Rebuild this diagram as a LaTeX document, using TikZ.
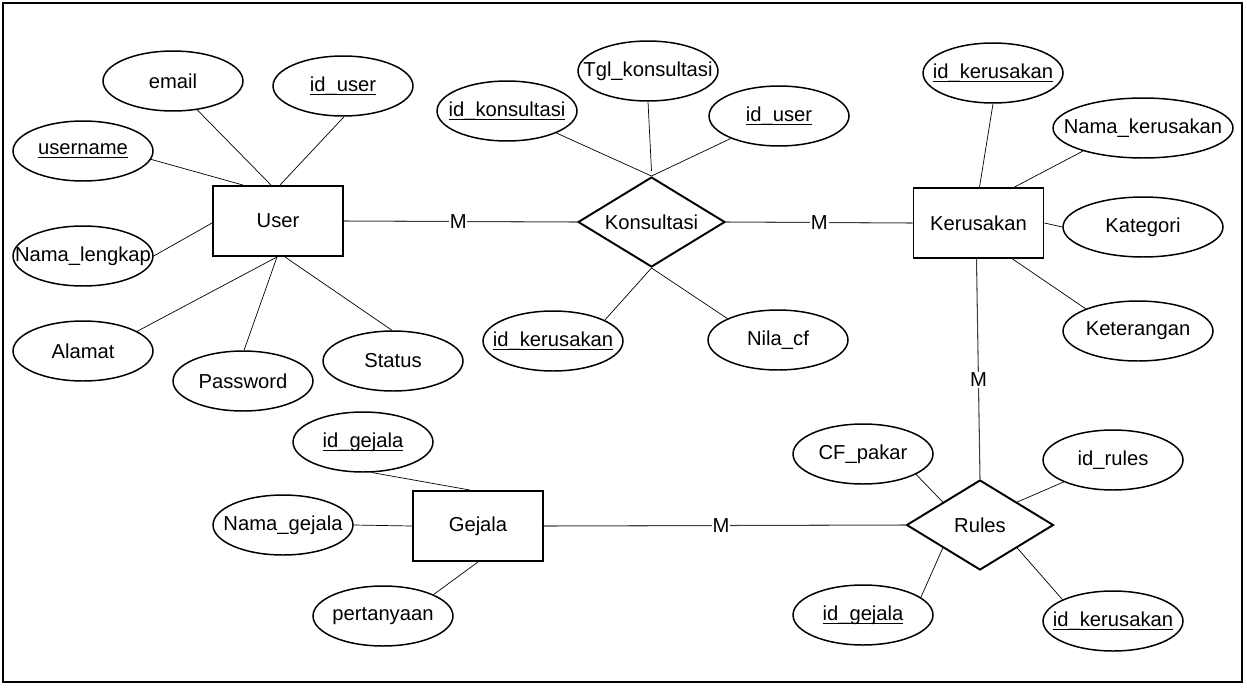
\documentclass[tikz,border=0pt]{standalone}
\usepackage{fontspec}
\setmainfont{Liberation Sans}
\usetikzlibrary{shapes.geometric,calc}

% key attribute: underline placed at the level of the underscore glyph
\newcommand{\keyattr}[1]{\setbox0\hbox{#1}\rlap{\rule[-2.3pt]{\wd0}{0.7pt}}\box0}

\tikzset{
  erfont/.style={font=\fontsize{11.5}{13.5}\selectfont},
  entity/.style={erfont, draw, rectangle, line width=1.1pt, minimum width=2.6cm,
    minimum height=1.4cm, inner sep=0pt},
  rel/.style={erfont, draw, diamond, line width=1.1pt, minimum width=2.94cm,
    minimum height=1.8cm, inner sep=0pt},
  attr/.style={erfont, draw, ellipse, line width=0.85pt, minimum width=2.8cm,
    minimum height=1.2cm, inner sep=0pt},
  link/.style={line width=0.4pt},
  rlink/.style={line width=0.6pt, draw=black!75},
  card/.style={erfont, fill=white, inner sep=0.5pt},
  frame/.style={line width=1.1pt}
}

\begin{document}
\begin{tikzpicture}[x=0.02cm, y=-0.02cm]
\useasboundingbox (0,0) rectangle (1247,687);
\draw[frame] (3,3) rectangle (1242,682);

% entities and relationships
\node[entity] (user) at (278,221) {User};
\node[entity] (ker) at (978.5,223) {Kerusakan};
\node[entity] (gejala) at (478,526) {Gejala};
\node[rel] (kons) at (651.5,222) {\makebox[0pt]{Konsultasi}};
\node[rel] (rules) at (980,525) {\makebox[0pt]{Rules}};

% attributes of User
\node[attr] (email)  at (173,81)  {\makebox[0pt]{email}};
\node[attr] (iduser) at (343,86)  {\makebox[0pt]{\keyattr{id\_user}}};
\node[attr] (uname)  at (83,151)  {\makebox[0pt]{\keyattr{username}}};
\node[attr] (namal)  at (83,256)  {\makebox[0pt]{Nama\_lengkap}};
\node[attr] (alamat) at (83,351)  {\makebox[0pt]{Alamat}};
\node[attr] (pass)   at (243,381) {\makebox[0pt]{Password}};
\node[attr] (status) at (393,361) {\makebox[0pt]{Status}};

% attributes of Konsultasi
\node[attr] (idkons)  at (507,111) {\makebox[0pt]{\keyattr{id\_konsultasi}}};
\node[attr] (tgl)     at (648,71)  {\makebox[0pt]{Tgl\_konsultasi}};
\node[attr] (iduser2) at (779,116) {\makebox[0pt]{\keyattr{id\_user}}};
\node[attr] (idkerk)  at (553,341) {\makebox[0pt]{\keyattr{id\_kerusakan}}};
\node[attr] (nila)    at (778,340) {\makebox[0pt]{Nila\_cf}};

% attributes of Kerusakan
\node[attr] (idker) at (993,73) {\makebox[0pt]{\keyattr{id\_kerusakan}}};
\node[attr, minimum width=3.6cm] (namak) at (1143,128) {\makebox[0pt]{Nama\_kerusakan}};
\node[attr, minimum width=3.2cm] (kat) at (1143,227) {\makebox[0pt]{Kategori}};
\node[attr, minimum width=3.0cm] (ket) at (1138,331) {\makebox[0pt]{Keterangan}};

% attributes of Rules
\node[attr] (cf)      at (863,454) {\makebox[0pt]{CF\_pakar}};
\node[attr] (idrules) at (1113,460) {\makebox[0pt]{id\_rules}};
\node[attr] (idgr)    at (863,615) {\makebox[0pt]{\keyattr{id\_gejala}}};
\node[attr] (idkr)    at (1113,621) {\makebox[0pt]{\keyattr{id\_kerusakan}}};

% attributes of Gejala
\node[attr] (idg)   at (363,442) {\makebox[0pt]{\keyattr{id\_gejala}}};
\node[attr] (namag) at (283,525) {\makebox[0pt]{Nama\_gejala}};
\node[attr] (pert)  at (383,616) {\makebox[0pt]{pertanyaan}};

% User links
\draw[link] (email.-50) -- ($(user.north)+(-7,0)$);
\draw[link] (iduser.-88) -- ($(user.north)+(2,0)$);
\draw[link] (uname.-7) -- ($(user.north)+(-35,0)$);
\draw[link] (namal.0) -- ($(user.west)+(0,2)$);
\draw[link] (alamat.20) -- ($(user.south)+(-1,0)$);
\draw[link] (pass.88) -- ($(user.south)+(-1,0)$);
\draw[link] (status.92) -- ($(user.south)+(7,0)$);

% Konsultasi links
\draw[link] (idkons.-24) -- (kons.north);
\draw[link] (tgl.-90) -- ($(kons.north)+(0,-5)$);
\draw[link] (iduser2.-155) -- (kons.north);
\draw[link] (idkerk.22) -- (kons.south);
\draw[link] (nila.157) -- (kons.south);

% Kerusakan links
\draw[link] (idker.-90) -- ($(ker.north)+(1,0)$);
\draw[link] (namak.-159) -- ($(ker.north)+(36,0)$);
\draw[link] (kat.180) -- (ker.east);
\draw[link] (ket.157) -- ($(ker.south)+(34,0)$);

% Rules links
\draw[link] (cf.-21) -- ($(rules.west)!0.5!(rules.north)$);
\draw[link] (idrules.-156) -- ($(rules.north)!0.5!(rules.east)$);
\draw[link] (idgr.17) -- ($(rules.west)!0.5!(rules.south)$);
\draw[link] (idkr.157) -- ($(rules.south)!0.5!(rules.east)$);

% Gejala links
\draw[link] (idg.-74) -- ($(gejala.north)+(-8,0)$);
\draw[link] (namag.0) -- (gejala.west);
\draw[link] (pert.23) -- (gejala.south);

% relationship lines with cardinalities
\draw[rlink] (user.east) -- node[card, pos=0.49]{M} (kons.west);
\draw[rlink] (kons.east) -- node[card]{M} (ker.west);
\draw[rlink] ($(ker.south)+(-2,0)$) -- node[card, pos=0.55]{M} (rules.north);
\draw[rlink] (gejala.east) -- node[card, pos=0.49]{M} (rules.west);
\end{tikzpicture}
\end{document}
